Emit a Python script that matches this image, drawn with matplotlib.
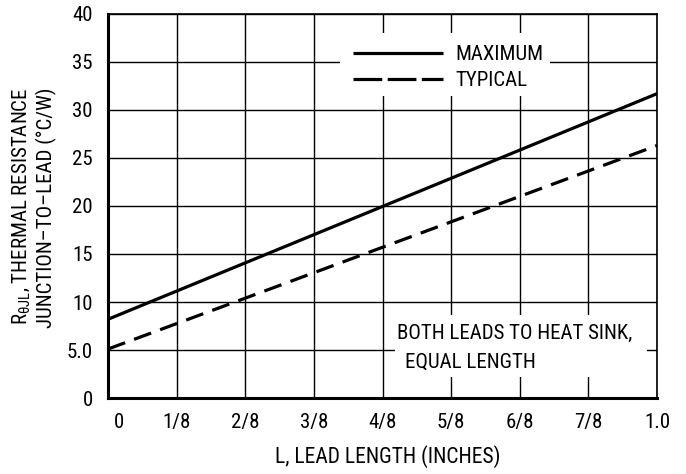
import matplotlib
matplotlib.use("Agg")
import matplotlib.pyplot as plt
from matplotlib import font_manager
from matplotlib.lines import Line2D
from matplotlib.patches import Rectangle
import matplotlib.transforms as mtransforms

# ---- data ----
lead_length = [0.0, 1.0]
r_maximum = [8.2, 31.7]
r_typical = [5.1, 26.3]
x_ticks = [0, 0.125, 0.25, 0.375, 0.5, 0.625, 0.75, 0.875, 1.0]
x_tick_labels = ["0", "1/8", "2/8", "3/8", "4/8", "5/8", "6/8", "7/8", "1.0"]
y_ticks = [0, 5, 10, 15, 20, 25, 30, 35, 40]
y_tick_labels = ["0", "5.0", "10", "15", "20", "25", "30", "35", "40"]

names = {f.name for f in font_manager.fontManager.ttflist}
fam = "Roboto Condensed" if "Roboto Condensed" in names else "Liberation Sans"
plt.rcParams["font.family"] = [fam, "DejaVu Sans"]
plt.rcParams["mathtext.fontset"] = "custom"
plt.rcParams["mathtext.rm"] = fam
plt.rcParams["mathtext.it"] = fam

FS = 15
W, H = 686, 474
fig = plt.figure(figsize=(W / 100, H / 100), dpi=100)
L, R, T, B = 108, 657, 14, 398
ax = fig.add_axes([L / W, 1 - B / H, (R - L) / W, (B - T) / H])

ax.set_xlim(0, 1.0)
ax.set_ylim(0, 40)
ax.set_xticks(x_ticks)
ax.set_xticklabels(x_tick_labels, fontsize=FS)
ax.set_yticks(y_ticks)
ax.set_yticklabels(y_tick_labels, fontsize=FS)
ax.tick_params(axis="both", length=0)
ax.tick_params(axis="x", pad=11)
ax.tick_params(axis="y", pad=11)
ax.set_axisbelow(True)
ax.grid(True, color="black", linewidth=1.0)
for s in ["top", "right"]:
    ax.spines[s].set_linewidth(1.2)
for s in ["left", "bottom"]:
    ax.spines[s].set_linewidth(2.2)
for sp in ax.spines.values():
    sp.set_zorder(5)

# shift "0" x label right
lbl0 = ax.get_xticklabels()[0]
lbl0.set_transform(lbl0.get_transform() + mtransforms.ScaledTranslation(11 / 100, 0, fig.dpi_scale_trans))

# curves
ax.plot(lead_length, r_maximum, color="black", linewidth=2.3, solid_capstyle="butt", zorder=3)
ax.plot(lead_length, r_typical, color="black", linewidth=2.3, linestyle=(0, (5.7, 3.0)),
        dash_capstyle="butt", zorder=3)

def px2ax(x, y):
    return (x - L) / (R - L), (B - y) / (B - T)

# legend white box
x0, y1 = px2ax(340, 96)
x1, y0 = px2ax(550, 33)
ax.add_patch(Rectangle((x0, y1), x1 - x0, y0 - y1, transform=ax.transAxes,
                       facecolor="white", edgecolor="none", zorder=1))
handles = [Line2D([], [], color="black", linewidth=2.3, solid_capstyle="butt"),
           Line2D([], [], color="black", linewidth=2.3, linestyle=(0, (9, 1.7)), dash_capstyle="butt")]
lx, ly = px2ax(349, 41)
ax.legend(handles, ["MAXIMUM", "TYPICAL"], loc="upper left", bbox_to_anchor=(lx, ly),
          frameon=False, fontsize=FS, handlelength=4.3, handletextpad=0.6,
          labelspacing=0.35, borderpad=0.2, borderaxespad=0)

# note box
x0, y1 = px2ax(395, 377)
x1, y0 = px2ax(647, 315)
ax.add_patch(Rectangle((x0, y1), x1 - x0, y0 - y1, transform=ax.transAxes,
                       facecolor="white", edgecolor="none", zorder=1))
tx, ty = px2ax(397, 333)
ax.text(tx, ty, "BOTH LEADS TO HEAT SINK,", transform=ax.transAxes, fontsize=FS,
        ha="left", va="center", zorder=4)
tx, ty = px2ax(405, 362)
ax.text(tx, ty, "EQUAL LENGTH", transform=ax.transAxes, fontsize=FS,
        ha="left", va="center", zorder=4)

# axis labels
fig.text(388 / W, 1 - 457 / H, "L, LEAD LENGTH (INCHES)", fontsize=FS + 0.5, ha="center", va="center")
fig.text(21 / W, 1 - 88 / H, r"R$_{\mathrm{θJL}}$, THERMAL RESISTANCE", fontsize=FS,
         rotation=90, ha="center", va="top")
fig.text(46 / W, 1 - 88 / H, "JUNCTION–TO–LEAD (°C/W)", fontsize=FS,
         rotation=90, ha="center", va="top")

fig.savefig("out.png", dpi=100)
